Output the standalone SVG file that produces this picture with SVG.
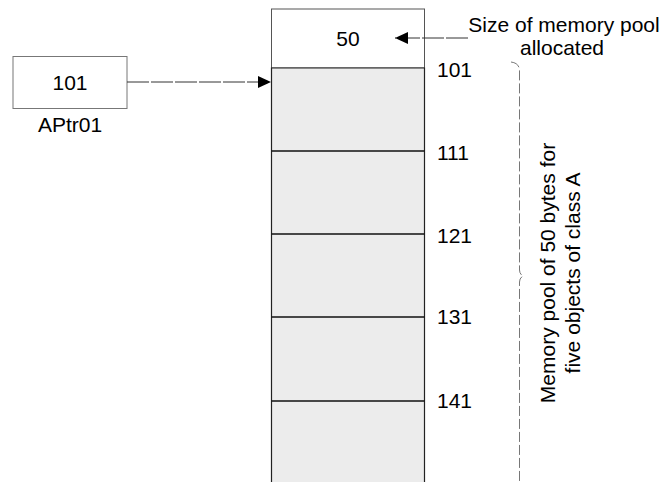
<svg xmlns="http://www.w3.org/2000/svg" width="664" height="482" viewBox="0 0 664 482">
<style>
text{font-family:"Liberation Sans",Arial,sans-serif;font-size:21px;fill:#000}
.c{text-anchor:middle}
.box{fill:#fff;stroke:#777;stroke-width:1}
.conn{stroke:#333;stroke-width:1;fill:none;stroke-dasharray:22 2}
.brace{stroke:#777;stroke-width:1;fill:none;stroke-dasharray:10 3}
</style>
<defs>
<marker id="ah" markerWidth="14" markerHeight="12" refX="13" refY="6" orient="auto" markerUnits="userSpaceOnUse">
<path d="M0,0 L13,6 L0,12 Z" fill="#000"/>
</marker>
</defs>
<g id="aptr01">
<rect class="box" x="13" y="56.5" width="114" height="52"/>
<text class="c" x="70" y="90">101</text>
<text class="c" x="70" y="132">APtr01</text>
</g>
<g id="pool">
<rect class="box" x="271.5" y="9" width="153" height="59" style="stroke:#555"/>
<text class="c" x="348" y="46">50</text>
<path d="M271.5,482 V68 H424.5 V482" fill="#ececec" stroke="#222" stroke-width="1.2"/>
<line x1="271.5" y1="151" x2="424.5" y2="151" stroke="#111" stroke-width="1.3"/>
<line x1="271.5" y1="234" x2="424.5" y2="234" stroke="#111" stroke-width="1.3"/>
<line x1="271.5" y1="317" x2="424.5" y2="317" stroke="#111" stroke-width="1.3"/>
<line x1="271.5" y1="401" x2="424.5" y2="401" stroke="#111" stroke-width="1.3"/>
</g>
<g id="addresses">
<text x="437" y="77">101</text>
<text x="437" y="160">111</text>
<text x="437" y="243">121</text>
<text x="437" y="324">131</text>
<text x="437" y="408">141</text>
</g>
<g id="size-label">
<text class="c" x="564" y="32">Size of memory pool</text>
<text class="c" x="562" y="55">allocated</text>
</g>
<g id="pool-label">
<path class="brace" d="M511,62 Q519,63 519.5,70 V270 Q519.5,274 523,276 Q519.5,278 519.5,282 V482"/>
<text class="c" transform="translate(555,273) rotate(-90)">Memory pool of 50 bytes for</text>
<text class="c" transform="translate(580,273) rotate(-90)">five objects of class A</text>
</g>
<g id="connectors">
<line class="conn" x1="127" y1="82" x2="271" y2="82" marker-end="url(#ah)"/>
<line class="conn" x1="468" y1="38" x2="395" y2="38" marker-end="url(#ah)"/>
</g>
</svg>
